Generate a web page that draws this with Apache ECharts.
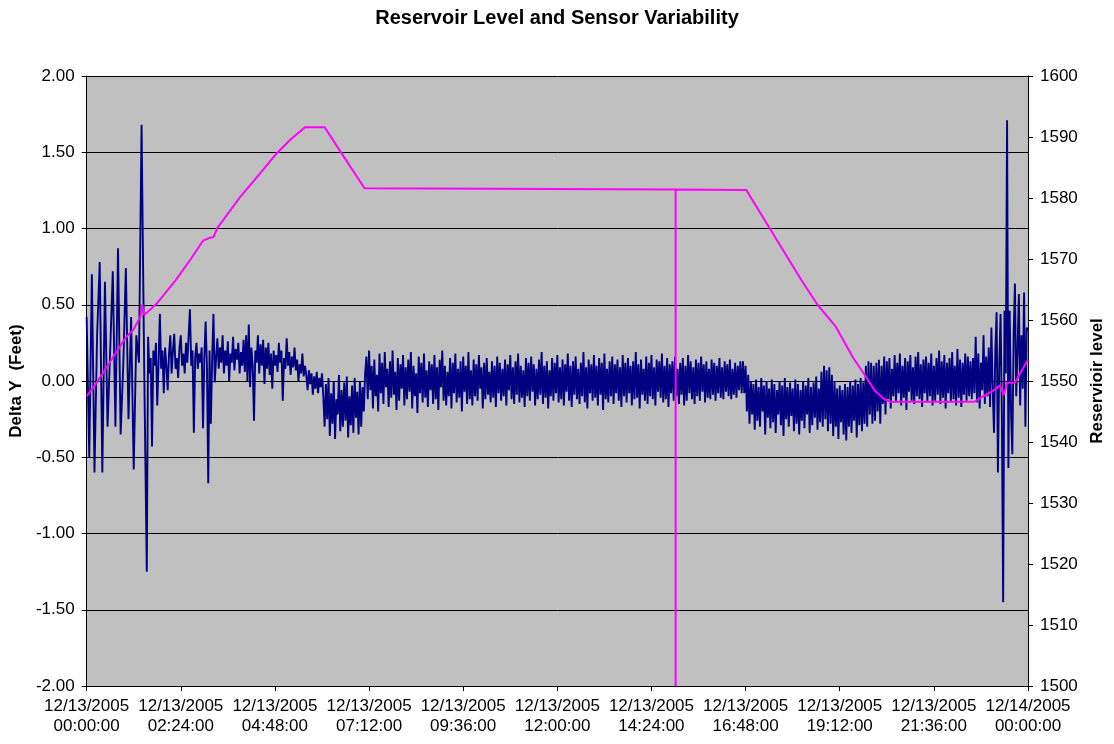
<!DOCTYPE html>
<html>
<head>
<meta charset="utf-8">
<script src="https://cdn.jsdelivr.net/npm/echarts@6/dist/echarts.min.js"></script>
<style>
html,body{margin:0;padding:0;background:#fff;overflow:hidden;}
#chart{width:1114px;height:744px;}
</style>
</head>
<body>
<div id="chart"></div>
<script>
// ---------- DATA ----------
const chartTitle = 'Reservoir Level and Sensor Variability';
const leftAxisName = 'Delta Y  (Feet)';
const rightAxisName = 'Reservioir level';

const xTickLabels = [
  '12/13/2005\n00:00:00','12/13/2005\n02:24:00','12/13/2005\n04:48:00','12/13/2005\n07:12:00',
  '12/13/2005\n09:36:00','12/13/2005\n12:00:00','12/13/2005\n14:24:00','12/13/2005\n16:48:00',
  '12/13/2005\n19:12:00','12/13/2005\n21:36:00','12/14/2005\n00:00:00'
];

// Sensor delta Y (feet). Early part: every 4 min from 00:00 to 01:32
const earlyStartMin = 0, earlyStepMin = 4;
const deltaYEarly = [
  0.42,-0.5,0.7,-0.6,0.3,0.78,-0.6,0.65,-0.3,0.2,0.72,-0.3,0.87,-0.35,0.1,0.74,-0.25,0.42,-0.58,0.3,0.12,
  1.68,0.1,-1.25
];

// Morning: every 2 min from 01:34 to 07:06
const morningStartMin = 94, morningStepMin = 2;
const deltaYMorning = [
  0.29,0.05,0.15,-0.43,0.2,0.1,0.25,-0.16,0.12,0.44,0.08,0.2,-0.08,0.22,0.1,-0.06,
  0.18,0.3,0.05,0.2,0.31,0.08,0.15,0.02,0.22,0.3,0.1,0.18,0.05,0.25,0.12,0.3,
  0.47,0.1,0.2,-0.34,0.15,0.25,0.08,0.18,0.12,0.22,-0.31,0.15,0.39,0.1,-0.67,0.2,
  -0.28,0.15,0.44,-0.01,
  0.15,0.28,0.08,0.22,0.12,0.3,0.05,0.2,0.1,0.26,0.0,0.18,0.12,0.29,0.07,0.21,
  0.14,0.25,0.05,0.19,0.1,0.27,0.06,0.3,0.0,0.37,-0.04,0.22,0.1,-0.26,0.2,0.12,
  0.3,0.05,0.24,0.1,0.27,-0.02,0.22,0.08,0.25,0.04,0.18,-0.05,0.2,0.1,0.17,0.06,
  0.25,0.12,0.2,-0.13,0.15,0.08,0.28,0.1,0.19,
  0.04,0.16,0.09,0.22,0.07,0.14,0.0,0.11,0.05,0.18,0.03,0.1,
  0.04,-0.06,0.07,-0.02,0.05,-0.09,0.03,-0.05,0.06,-0.08,0.02,-0.04,0.05,-0.1,
  // dip around -0.15
  -0.3,-0.02,-0.25,0.02,-0.36,-0.08,-0.28,0.0,-0.38,-0.12,-0.22,0.04,-0.33,-0.06,-0.3,-0.01,
  -0.26,0.03,-0.37,-0.1,-0.29,-0.03,-0.34,0.02,-0.24,-0.07,-0.35,0.0,-0.3,-0.04,-0.2,0.05
];

// Day: every 2 min from 07:08 to 22:32
const dayStartMin = 428, dayStepMin = 2;
const deltaYDay = [
  // steady band around 0
  0.16,-0.12,0.2,-0.06,0.1,-0.18,0.14,-0.1,0.04,-0.2,0.18,-0.08,0.12,-0.15,0.19,-0.04,
  0.08,-0.17,0.13,-0.11,0.2,-0.09,0.06,-0.19,0.15,-0.13,0.11,-0.05,0.17,-0.16,0.09,-0.12,
  0.14,-0.07,0.19,-0.18,0.1,-0.1,0.05,-0.21,0.16,-0.08,0.12,-0.14,0.18,-0.11,0.07,-0.17,
  0.13,-0.06,0.11,-0.15,0.17,-0.12,0.09,-0.19,0.14,-0.04,0.2,-0.13,0.1,-0.16,0.06,-0.1,
  0.15,-0.18,0.12,-0.08,0.18,-0.14,0.08,-0.11,0.13,-0.2,0.16,-0.07,0.1,-0.15,0.19,-0.12,
  0.07,-0.16,0.14,-0.1,0.11,-0.13,0.17,-0.05,0.09,-0.18,0.12,-0.12,0.15,-0.09,0.06,-0.14,
  0.13,-0.11,0.1,-0.17,0.16,-0.08,0.12,-0.13,0.08,-0.1,0.14,-0.16,0.11,-0.06,0.17,-0.12,
  0.09,-0.15,0.13,-0.09,0.18,-0.14,0.1,-0.11,0.07,-0.17,0.15,-0.1,0.12,-0.13,0.16,-0.07,
  0.11,-0.16,0.08,-0.12,0.14,-0.09,0.19,-0.15,0.1,-0.11,0.13,-0.18,0.07,-0.1,0.15,-0.13,
  0.12,-0.08,0.17,-0.14,0.09,-0.12,0.14,-0.16,0.11,-0.07,0.18,-0.13,0.1,-0.17,0.13,-0.09,
  0.16,-0.12,0.08,-0.15,0.12,-0.1,0.19,-0.14,0.09,-0.18,0.14,-0.08,0.11,-0.13,0.17,-0.11,
  0.1,-0.16,0.15,-0.09,0.12,-0.19,0.18,-0.12,0.08,-0.14,0.13,-0.1,0.16,-0.15,0.11,-0.08,
  0.14,-0.13,0.09,-0.17,0.17,-0.1,0.12,-0.14,0.15,-0.08,0.1,-0.16,0.13,-0.12,0.19,-0.11,
  0.11,-0.18,0.14,-0.09,0.08,-0.13,0.16,-0.15,0.12,-0.1,0.17,-0.12,0.09,-0.16,0.14,-0.07,
  0.13,-0.11,0.18,-0.14,0.1,-0.12,0.15,-0.17,0.11,-0.08,0.13,-0.13,0.16,-0.1,0.08,-0.15,
  0.12,-0.09,0.15,-0.16,0.1,-0.13,0.17,-0.08,0.13,-0.12,0.09,-0.15,0.14,-0.1,0.12,-0.13,
  0.16,-0.07,0.11,-0.14,0.13,-0.11,0.08,-0.12,0.14,-0.09,0.12,-0.13,0.1,-0.08,0.15,-0.11,
  0.09,-0.12,0.13,-0.07,0.11,-0.1,0.14,-0.12,0.08,-0.09,0.12,-0.11,0.1,-0.06,0.13,-0.08,
  // lower band around -0.15
  0.13,-0.08,0.1,-0.2,0.04,-0.28,0.0,-0.22,-0.02,-0.32,0.01,-0.26,-0.04,-0.3,0.02,-0.2,
  -0.03,-0.35,0.0,-0.24,-0.05,-0.31,0.01,-0.27,-0.02,-0.34,-0.06,-0.22,0.0,-0.29,-0.03,-0.36,
  0.02,-0.25,-0.04,-0.3,-0.01,-0.23,-0.05,-0.33,0.01,-0.28,-0.02,-0.35,-0.06,-0.26,0.0,-0.31,
  -0.03,-0.22,0.02,-0.34,-0.04,-0.29,-0.01,-0.24,0.03,-0.32,-0.05,-0.27,0.06,-0.3,0.1,-0.25,
  0.07,-0.33,0.09,-0.28,0.04,-0.36,0.0,-0.3,-0.05,-0.38,-0.03,-0.27,-0.06,-0.35,-0.02,-0.39,
  -0.04,-0.3,0.0,-0.34,-0.03,-0.26,0.01,-0.37,-0.02,-0.29,0.02,-0.33,-0.01,-0.28,0.1,-0.3,
  0.13,-0.22,0.12,-0.28,0.1,
  // band around 0
  -0.26,0.12,-0.2,0.14,-0.28,0.1,-0.15,0.16,-0.22,0.13,-0.12,0.15,-0.18,0.08,-0.1,0.17,
  -0.14,0.12,-0.08,0.18,-0.16,0.1,-0.11,0.15,-0.19,0.13,-0.07,0.17,-0.13,0.09,-0.15,0.16,
  -0.1,0.19,-0.12,0.11,-0.17,0.14,-0.08,0.16,-0.14,0.12,-0.1,0.18,-0.16,0.1,-0.13,0.15,
  -0.09,0.2,-0.15,0.13,-0.11,0.17,-0.18,0.12,-0.08,0.15,-0.14,0.19,-0.12,0.1,-0.16,0.21,
  -0.11,0.14,-0.17,0.12,-0.09,0.18,-0.13,0.16,-0.1,0.13
];

// Late: every 2 min from 22:34 to 24:00
const lateStartMin = 1354, lateStepMin = 2;
const deltaYLate = [
  -0.12,0.15,-0.08,0.29,-0.14,0.18,-0.18,0.12,-0.06,0.3,-0.15,0.16,-0.1,0.22,-0.17,0.35,
  -0.05,-0.34,0.2,0.45,-0.6,0.1,0.44,-0.2,-1.45,0.46,0.05,1.71,-0.57,0.46,-0.2,-0.48,
  0.3,0.64,-0.1,0.2,0.57,-0.16,0.3,-0.05,0.58,-0.3,0.35,0.33
];

// Reservoir level (feet), vertices at minutes from 00:00
const levelMinutes = [0,14,29,44,59,72,82,85,88,108,136,158,178,189,194,200,235,265,288,311,334,364,395,425,
  901,901,901,1004,1009,1093,1118,1146,1172,1192,1205,1218,1228,1358,1370,1388,1397,1400,1403,1408,1420,1435,1440];
const levelValues = [1547.5,1549.5,1552,1554.5,1557,1558.5,1560.5,1562.5,1560.8,1562.8,1566.5,1569.8,1573,1573.5,1573.6,1575.1,1580.2,1584,1587,1589.5,1591.6,1591.6,1586.5,1581.6,
  1581.4,1500,1581.4,1581.3,1581.3,1566.6,1562.5,1558.9,1553.9,1550.7,1548.5,1547.2,1546.6,1546.6,1547.4,1548.5,1549.3,1549.5,1547.7,1549.7,1549.7,1552.6,1553.5];

// ---------- CHART ----------
const toPairs = (arr, start, step) => arr.map((v, i) => [start + i * step, v]);
const blueData = []
  .concat(toPairs(deltaYEarly, earlyStartMin, earlyStepMin))
  .concat(toPairs(deltaYMorning, morningStartMin, morningStepMin))
  .concat(toPairs(deltaYDay, dayStartMin, dayStepMin))
  .concat(toPairs(deltaYLate, lateStartMin, lateStepMin));
const levelData = levelMinutes.map((m, i) => [m, levelValues[i]]);

const chart = echarts.init(document.getElementById('chart'), null, {renderer: 'canvas'});
const fontFam = '"Liberation Sans", Arial, sans-serif';
chart.setOption({
  animation: false,
  backgroundColor: '#ffffff',
  title: {
    text: chartTitle, left: 'center', top: 3,
    textStyle: {fontFamily: fontFam, fontWeight: 'bold', fontSize: 20, color: '#000'}
  },
  grid: {left: 86, right: 83, top: 76, bottom: 58, show: true, backgroundColor: '#C0C0C0', borderWidth: 0},
  xAxis: {
    type: 'value', min: 0, max: 1440, interval: 144,
    axisLine: {show: true, onZero: false, lineStyle: {color: '#000', width: 1}},
    axisTick: {show: true, length: 5, lineStyle: {color: '#000'}},
    splitLine: {show: false},
    axisLabel: {
      margin: 10, fontFamily: fontFam, fontSize: 17, color: '#000', lineHeight: 20,
      formatter: v => xTickLabels[Math.round(v / 144)]
    }
  },
  yAxis: [{
    type: 'value', min: -2, max: 2, interval: 0.5, position: 'left',
    name: leftAxisName, nameLocation: 'middle', nameGap: 57, nameRotate: 90,
    nameTextStyle: {fontFamily: fontFam, fontWeight: 'bold', fontSize: 17, color: '#000'},
    axisLine: {show: true, lineStyle: {color: '#000', width: 1}},
    axisTick: {show: true, length: 5, lineStyle: {color: '#000'}},
    splitLine: {show: true, lineStyle: {color: '#000', width: 1}},
    axisLabel: {margin: 12, fontFamily: fontFam, fontSize: 17, color: '#000', formatter: v => v.toFixed(2)}
  }, {
    type: 'value', min: 1500, max: 1600, interval: 10, position: 'right',
    name: rightAxisName, nameLocation: 'middle', nameGap: 61, nameRotate: 90,
    nameTextStyle: {fontFamily: fontFam, fontWeight: 'bold', fontSize: 17, color: '#000'},
    axisLine: {show: true, lineStyle: {color: '#000', width: 1}},
    axisTick: {show: true, length: 5, lineStyle: {color: '#000'}},
    splitLine: {show: false},
    axisLabel: {margin: 12, fontFamily: fontFam, fontSize: 17, color: '#000', formatter: v => String(v)}
  }],
  series: [{
    name: 'Delta Y', type: 'line', yAxisIndex: 0, data: blueData,
    showSymbol: false, symbol: 'none',
    lineStyle: {color: '#000080', width: 1.9}, itemStyle: {color: '#000080'}
  }, {
    name: 'Reservoir level', type: 'line', yAxisIndex: 1, data: levelData,
    showSymbol: false, symbol: 'none',
    lineStyle: {color: '#FF00FF', width: 2}, itemStyle: {color: '#FF00FF'}
  }]
});
</script>
</body>
</html>
